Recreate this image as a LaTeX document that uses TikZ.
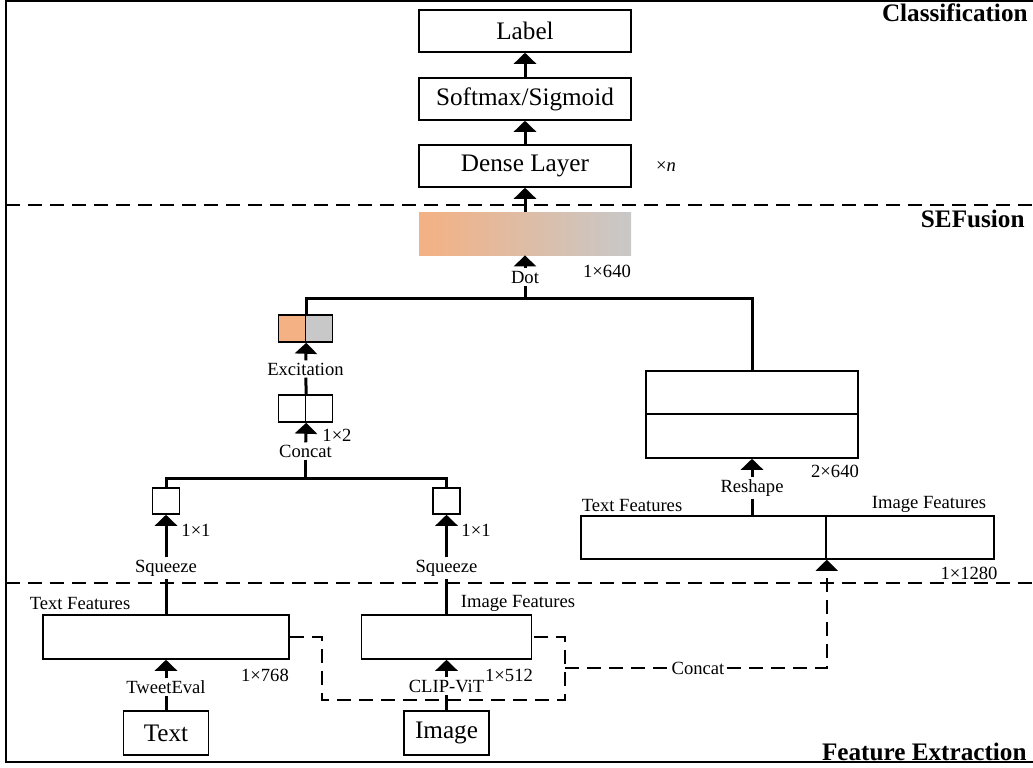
\documentclass[tikz,border=0pt]{standalone}
\usepackage{fontspec}
\setmainfont{Liberation Serif}
\usetikzlibrary{arrows.meta}
\definecolor{peach}{RGB}{244,177,131}
\definecolor{ash}{RGB}{200,200,200}

\begin{document}
\begin{tikzpicture}[x=.5pt,y=-.5pt,
  box/.style={draw,line width=.75pt,inner sep=0,font=\fontsize{12.6}{15}\selectfont},
  lbl/.style={inner sep=1pt,font=\fontsize{9.3}{11}\selectfont},
  ttl/.style={anchor=east,inner sep=0,font=\bfseries\fontsize{12.6}{15}\selectfont},
  link/.style={line width=1.5pt},
  up/.style={line width=1.5pt,-{Triangle[width=11pt,length=5.5pt]}},
  dsh/.style={line width=.8pt,dash pattern=on 7pt off 4pt}]
\useasboundingbox (0,0) rectangle (1033,767);
\draw[line width=1pt] (1033,1) -- (6,1) -- (6,762) -- (1033,762);
\draw[dsh] (6,205) -- (1033,205);
\draw[dsh] (6,583) -- (1033,583);
\node[ttl] (cls) at (1028,13) {Classification};
\node[ttl] (sef) at (1025,219) {SEFusion};
\node[ttl] (fex) at (1027,752) {Feature Extraction};

\node[box,minimum width=106pt,minimum height=21pt] (label) at (525,31) {Label};
\node[box,minimum width=106pt,minimum height=21pt] (soft) at (525,99) {Softmax/Sigmoid};
\node[box,minimum width=106pt,minimum height=21pt] (dense) at (525,166) {Dense Layer};
\node[lbl] (times) at (666,167) {×\textit{n}};
\node[inner sep=0,minimum width=106pt,minimum height=21.5pt,left color=peach,right color=ash] (fused) at (525,233.5) {};
\node[lbl] (dot) at (525,277) {Dot};
\node[lbl] (d640) at (607,271) {1×640};
\coordinate (bus) at (525,298);

\node[box,fill=peach,minimum size=13.5pt] (exl) at (292,328.5) {};
\node[box,fill=ash,minimum size=13.5pt] (exr) at (319,328.5) {};
\node[lbl] (excite) at (305.5,369) {Excitation};
\node[box,minimum size=13.5pt] (cl) at (292,408.5) {};
\node[box,minimum size=13.5pt] (cr) at (319,408.5) {};
\node[lbl] (d2) at (337,435) {1×2};
\node[lbl] (concat) at (305.5,451) {Concat};
\coordinate (bus2) at (305.5,478);

\node[box,minimum width=13.5pt,minimum height=13pt] (sqt) at (166,501) {};
\node[box,minimum width=13.5pt,minimum height=13pt] (sqi) at (446.5,501) {};
\node[lbl] (d1t) at (196,530) {1×1};
\node[lbl] (d1i) at (476,530) {1×1};
\node[lbl] (squt) at (166,568) {Squeeze};
\node[lbl] (squi) at (446.5,568) {Squeeze};

\node[box,minimum width=123pt,minimum height=22pt] (tf) at (166,637) {};
\node[lbl] (tfl) at (80,603) {Text Features};
\node[lbl] (d768) at (265,675) {1×768};
\node[lbl] (tweet) at (166,687) {TweetEval};
\node[box,minimum width=42.5pt,minimum height=22pt] (txt) at (166,733) {Text};

\node[box,minimum width=85pt,minimum height=22pt] (imf) at (446.5,637) {};
\node[lbl] (imfl) at (518,603) {Image Features};
\node[lbl] (d512) at (509,675) {1×512};
\node[lbl] (clip) at (446.5,686) {CLIP-ViT};
\node[box,minimum width=42.5pt,minimum height=22pt] (img) at (446.5,733) {Image};

\node[box,minimum width=106pt,minimum height=21.5pt] (rtop) at (752,392.5) {};
\node[box,minimum width=106pt,minimum height=22pt] (rbot) at (752,436) {};
\node[lbl] (d2x) at (835,471) {2×640};
\node[lbl] (reshape) at (752,488) {Reshape};
\node[box,minimum width=122.5pt,minimum height=21.5pt] (catl) at (703.5,537.5) {};
\node[box,minimum width=84pt,minimum height=21.5pt] (catr) at (910,537.5) {};
\node[lbl] (ctl) at (632,505) {Text Features};
\node[lbl] (cil) at (929,504) {Image Features};
\node[lbl] (d1280) at (969,573) {1×1280};
\node[lbl] (cc) at (698,668) {Concat};

\draw[up] (soft) -- (label);
\draw[up] (dense) -- (soft);
\draw[up] (fused) -- (dense);
\draw[up] (dot) -- (fused);
\draw[link] (dot) -- (bus);
\draw[link] (exl.north east) |- (bus) -| (rtop.north);
\draw[up] (excite) -- (exl.south east);
\draw[link] (excite) -- (cl.north east);
\draw[up] (concat) -- (cl.south east);
\draw[link] (concat) -- (bus2);
\draw[link] (sqt.north) |- (bus2) -| (sqi.north);
\draw[up] (squt) -- (sqt);
\draw[up] (squi) -- (sqi);
\draw[link] (squt) -- (tf);
\draw[link] (squi) -- (imf);
\draw[up] (tweet) -- (tf);
\draw[up] (clip) -- (imf);
\draw[link] (txt) -- (tweet);
\draw[link] (img) -- (clip);
\draw[up] (reshape) -- (rbot);
\draw[link] (reshape |- catl.north) -- (reshape);

\coordinate (jl) at (322,700);
\coordinate (jr) at (565,700);
\coordinate (jm) at (565,668);
\draw[dsh] (tf.east) -| (jl) -- (jr) |- (imf.east);
\draw[dsh] (jm) -- (cc);
\draw[dsh,-{Triangle[width=11pt,length=5.5pt]}] (cc) -| (catl.south east);
\end{tikzpicture}
\end{document}
